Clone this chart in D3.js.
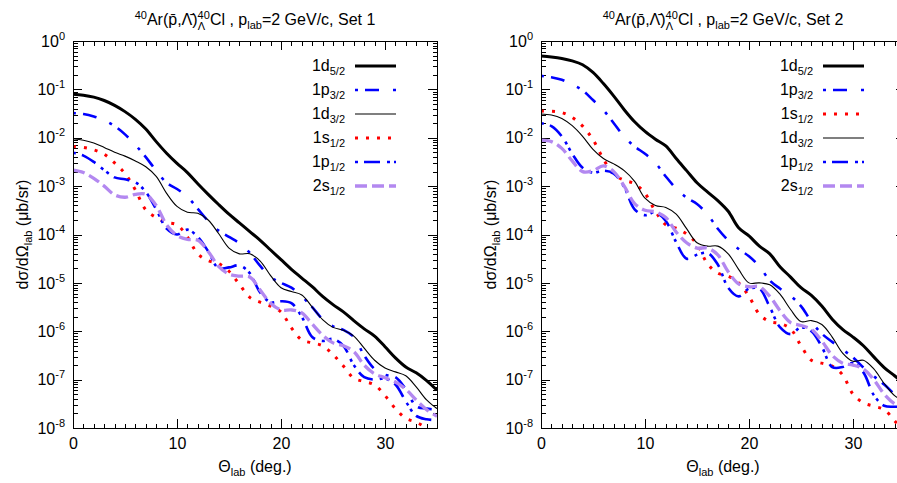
<!DOCTYPE html>
<html>
<head>
<meta charset="utf-8">
<script src="https://cdn.jsdelivr.net/npm/d3@7"></script>
<style>
  body { margin: 0; background: #fff; }
  svg { font-family: "Liberation Sans", Arial, sans-serif; }
</style>
</head>
<body>
<svg id="chart" width="897" height="483"></svg>
<script>
// scattering angle grid (deg.)
const theta = [0,1,2,3,4,5,6,7,8,9,10,11,12,13,14,15,16,17,18,19,20,21,22,23,24,25,26,27,28,29,30,31,32,33,34,35];
const xMajor = [0, 10, 20, 30];
const yMajorExp = [0, -1, -2, -3, -4, -5, -6, -7, -8];

// values are log10 of dsigma/dOmega (micro-barn/sr)
// Set 1
const s1_1d52 = [-1.10,-1.12,-1.16,-1.23,-1.33,-1.46,-1.62,-1.82,-2.08,-2.32,-2.53,-2.72,-2.95,-3.17,-3.38,-3.58,-3.76,-3.94,-4.12,-4.32,-4.52,-4.72,-4.90,-5.08,-5.28,-5.45,-5.60,-5.78,-5.95,-6.10,-6.32,-6.55,-6.74,-6.86,-7.02,-7.22];
const s1_1p32 = [-1.49,-1.51,-1.56,-1.64,-1.76,-1.93,-2.15,-2.40,-2.68,-2.93,-3.06,-3.22,-3.47,-3.72,-3.92,-4.05,-4.18,-4.38,-4.65,-4.88,-5.00,-5.10,-5.28,-5.50,-5.75,-5.90,-5.97,-6.12,-6.50,-6.78,-6.90,-6.95,-7.20,-7.55,-7.60,-7.62];
const s1_1d32 = [-2.02,-2.05,-2.11,-2.20,-2.30,-2.38,-2.48,-2.60,-2.80,-3.15,-3.42,-3.54,-3.56,-3.70,-3.98,-4.28,-4.40,-4.40,-4.55,-4.85,-5.10,-5.18,-5.25,-5.50,-5.76,-5.92,-5.98,-6.10,-6.35,-6.60,-6.76,-6.84,-6.92,-7.15,-7.42,-7.60];
const s1_1s12 = [-2.18,-2.20,-2.25,-2.34,-2.52,-2.74,-3.08,-3.49,-3.65,-3.75,-3.80,-4.05,-4.40,-4.54,-4.60,-4.76,-5.03,-5.30,-5.40,-5.48,-5.60,-5.93,-6.18,-6.24,-6.30,-6.48,-6.72,-6.97,-7.04,-7.11,-7.33,-7.60,-7.80,-7.88,-8.00,-8.15];
const s1_1p12 = [-2.31,-2.37,-2.50,-2.67,-2.82,-2.86,-2.92,-3.12,-3.48,-3.88,-4.00,-3.90,-4.05,-4.35,-4.70,-4.68,-4.64,-4.80,-5.20,-5.40,-5.38,-5.42,-5.70,-6.12,-6.20,-6.16,-6.30,-6.70,-6.95,-7.00,-6.98,-7.10,-7.45,-7.75,-7.82,-7.84];
const s1_2s12 = [-2.67,-2.72,-2.84,-3.00,-3.18,-3.23,-3.17,-3.17,-3.40,-3.80,-4.02,-4.10,-4.12,-4.35,-4.66,-4.82,-4.86,-4.88,-5.15,-5.42,-5.56,-5.56,-5.62,-5.85,-6.08,-6.24,-6.30,-6.42,-6.70,-6.88,-6.96,-7.05,-7.20,-7.42,-7.62,-7.76];
// Set 2
const s2_1d52 = [-0.31,-0.33,-0.36,-0.41,-0.49,-0.65,-0.88,-1.14,-1.42,-1.67,-1.87,-2.03,-2.17,-2.43,-2.68,-2.93,-3.12,-3.30,-3.52,-3.86,-4.03,-4.24,-4.40,-4.67,-4.88,-5.10,-5.26,-5.48,-5.75,-5.96,-6.12,-6.30,-6.53,-6.75,-6.92,-7.10];
const s2_1p32 = [-0.72,-0.75,-0.80,-0.90,-1.02,-1.22,-1.43,-1.70,-1.98,-2.18,-2.33,-2.52,-2.80,-3.05,-3.24,-3.37,-3.58,-3.88,-4.12,-4.30,-4.45,-4.66,-4.95,-5.12,-5.27,-5.48,-5.80,-6.05,-6.22,-6.38,-6.54,-6.75,-6.93,-7.10,-7.30,-7.45];
const s2_1s12 = [-1.45,-1.45,-1.48,-1.58,-1.76,-2.04,-2.44,-2.76,-2.88,-2.95,-3.15,-3.52,-3.80,-3.87,-3.99,-4.20,-4.60,-4.80,-4.86,-5.00,-5.28,-5.65,-5.80,-5.84,-5.95,-6.30,-6.60,-6.66,-6.72,-6.90,-7.30,-7.48,-7.55,-7.62,-7.85,-8.10];
const s2_1d32 = [-1.51,-1.53,-1.60,-1.75,-1.97,-2.24,-2.43,-2.54,-2.68,-2.90,-3.25,-3.40,-3.44,-3.58,-3.88,-4.17,-4.24,-4.24,-4.40,-4.72,-5.00,-5.00,-5.04,-5.24,-5.55,-5.80,-5.78,-5.86,-6.12,-6.45,-6.62,-6.60,-6.78,-7.08,-7.33,-7.45];
const s2_1p12 = [-1.70,-1.76,-1.97,-2.33,-2.62,-2.72,-2.68,-2.74,-3.02,-3.48,-3.60,-3.54,-3.72,-4.16,-4.50,-4.42,-4.38,-4.62,-5.10,-5.28,-5.12,-5.12,-5.50,-5.92,-6.06,-5.92,-6.00,-6.32,-6.74,-6.74,-6.66,-6.85,-7.32,-7.54,-7.56,-7.55];
const s2_2s12 = [-2.05,-2.08,-2.22,-2.48,-2.70,-2.68,-2.58,-2.70,-3.00,-3.36,-3.50,-3.53,-3.65,-3.95,-4.17,-4.28,-4.28,-4.42,-4.77,-5.02,-5.08,-5.08,-5.28,-5.58,-5.82,-5.88,-5.96,-6.20,-6.50,-6.66,-6.70,-6.78,-7.00,-7.30,-7.50,-7.60];

const styles = {
  "1d52": {nl: "1d", sub: "5/2", color: "#000000", width: 3,   dash: null},
  "1p32": {nl: "1p", sub: "3/2", color: "#0000ff", width: 2.6, dash: "3,7,14,14"},
  "1d32": {nl: "1d", sub: "3/2", color: "#000000", width: 1.1, dash: null},
  "1s12": {nl: "1s", sub: "1/2", color: "#ff0000", width: 3,   dash: "3,8"},
  "1p12": {nl: "1p", sub: "1/2", color: "#0000ff", width: 2.6, dash: "3,6,16,7,3,4"},
  "2s12": {nl: "2s", sub: "1/2", color: "#b388f0", width: 3.3, dash: "12,5"}
};

const set1 = [["1d52", s1_1d52], ["1p32", s1_1p32], ["1d32", s1_1d32], ["1s12", s1_1s12], ["1p12", s1_1p12], ["2s12", s1_2s12]];
const set2 = [["1d52", s2_1d52], ["1p32", s2_1p32], ["1s12", s2_1s12], ["1d32", s2_1d32], ["1p12", s2_1p12], ["2s12", s2_2s12]];

const svg = d3.select("#chart");
const W = 364, H = 387, TOP = 41;

function drawPanel(left, setLabel, series, idx) {
  const x = d3.scaleLinear().domain([0, 35]).range([0, W]);
  const y = d3.scaleLog().domain([1e-8, 1]).range([H, 0]);
  const g = svg.append("g").attr("transform", `translate(${left},${TOP})`);

  g.append("clipPath").attr("id", "clip" + idx)
    .append("rect").attr("width", W).attr("height", H);

  const yMajor = yMajorExp.map(e => Math.pow(10, e));
  const yMinor = y.ticks().filter(v => {
    const m = v / Math.pow(10, Math.floor(Math.log10(v) + 1e-9));
    return Math.round(m) !== 1;
  });
  const xMinor = x.ticks(35).filter(v => v % 10 !== 0);

  // minor ticks on all four sides, pointing in
  const minorAxes = [
    [d3.axisLeft(y).tickValues(yMinor), null],
    [d3.axisRight(y).tickValues(yMinor), `translate(${W},0)`],
    [d3.axisBottom(x).tickValues(xMinor), `translate(0,${H})`],
    [d3.axisTop(x).tickValues(xMinor), null]
  ];
  minorAxes.forEach(([ax, tr]) => {
    const a = g.append("g").call(ax.tickSize(-4.5).tickSizeOuter(0).tickFormat(""));
    if (tr) a.attr("transform", tr);
    a.select(".domain").remove();
  });

  // major ticks
  g.append("g").call(d3.axisRight(y).tickValues(yMajor).tickSize(-9).tickSizeOuter(0).tickFormat(""))
    .attr("transform", `translate(${W},0)`).select(".domain").remove();
  g.append("g").call(d3.axisTop(x).tickValues(xMajor).tickSize(-9).tickSizeOuter(0).tickFormat(""))
    .select(".domain").remove();

  const yAx = g.append("g").call(d3.axisLeft(y).tickValues(yMajor).tickSize(-9).tickSizeOuter(0).tickPadding(8));
  yAx.select(".domain").remove();
  yAx.selectAll("text").each(function(d) {
    const t = d3.select(this).text(null).attr("font-size", 16).attr("font-family", null);
    t.append("tspan").text("10");
    t.append("tspan").attr("font-size", 11).attr("dy", -7).text(Math.round(Math.log10(d)));
  });

  const xAx = g.append("g").attr("transform", `translate(0,${H})`)
    .call(d3.axisBottom(x).tickValues(xMajor).tickSize(-9).tickSizeOuter(0).tickPadding(10));
  xAx.select(".domain").remove();
  xAx.selectAll("text").attr("font-size", 16).attr("font-family", null);

  g.selectAll(".tick line").attr("stroke", "#000").attr("shape-rendering", "crispEdges");

  // curves
  const line = d3.line()
    .x((d, i) => x(theta[i]))
    .y(d => y(Math.pow(10, d)))
    .curve(d3.curveCatmullRom.alpha(0.5));

  const curves = g.append("g").attr("clip-path", `url(#clip${idx})`);
  series.forEach(([key, vals]) => {
    const s = styles[key];
    curves.append("path").datum(vals)
      .attr("d", line)
      .attr("fill", "none")
      .attr("stroke", s.color)
      .attr("stroke-width", s.width)
      .attr("stroke-dasharray", s.dash)
      .attr("stroke-linejoin", "round");
  });

  // frame
  g.append("rect").attr("width", W).attr("height", H)
    .attr("fill", "none").attr("stroke", "#000").attr("stroke-width", 1)
    .attr("shape-rendering", "crispEdges");

  // legend
  const leg = g.append("g");
  series.forEach(([key], i) => {
    const s = styles[key];
    const ly = 25 + i * 24;
    const t = leg.append("text").attr("x", 272).attr("y", ly + 5)
      .attr("text-anchor", "end").attr("font-size", 16);
    t.append("tspan").text(s.nl);
    t.append("tspan").attr("font-size", 11).attr("dy", 4).text(s.sub);
    leg.append("line").attr("x1", 282).attr("x2", 323).attr("y1", ly).attr("y2", ly)
      .attr("stroke", s.color).attr("stroke-width", s.width)
      .attr("stroke-dasharray", s.dash);
  });

  // title
  const tt = svg.append("text").attr("x", left + W / 2).attr("y", 25)
    .attr("text-anchor", "middle").attr("font-size", 16);
  tt.append("tspan").attr("font-size", 11).attr("dy", -6).text("40");
  tt.append("tspan").attr("dy", 6).text("Ar(p\u0304,\u039B\u0304)");
  tt.append("tspan").attr("font-size", 11).attr("dy", -6).text("40");
  tt.append("tspan").attr("font-size", 11).attr("dx", -12.2).attr("dy", 11).text("\u039B");
  tt.append("tspan").attr("dx", 4.9).attr("dy", -5).text("Cl , p");
  tt.append("tspan").attr("font-size", 11).attr("dy", 4).text("lab");
  tt.append("tspan").attr("dy", -4).text("=2 GeV/c, " + setLabel);

  // axis titles
  const yl = svg.append("text")
    .attr("transform", `translate(${left - 45},${TOP + H / 2}) rotate(-90)`)
    .attr("text-anchor", "middle").attr("font-size", 16);
  yl.append("tspan").text("d\u03C3/d\u03A9");
  yl.append("tspan").attr("font-size", 11).attr("dy", 4).text("lab");
  yl.append("tspan").attr("dy", -4).text(" (\u03BCb/sr)");

  const xl = svg.append("text").attr("x", left + 182).attr("y", 472)
    .attr("text-anchor", "middle").attr("font-size", 16);
  xl.append("tspan").text("\u0398");
  xl.append("tspan").attr("font-size", 11).attr("dy", 4).text("lab");
  xl.append("tspan").attr("dy", -4).text(" (deg.)");
}

drawPanel(73, "Set 1", set1, 1);
drawPanel(541, "Set 2", set2, 2);
</script>
</body>
</html>
